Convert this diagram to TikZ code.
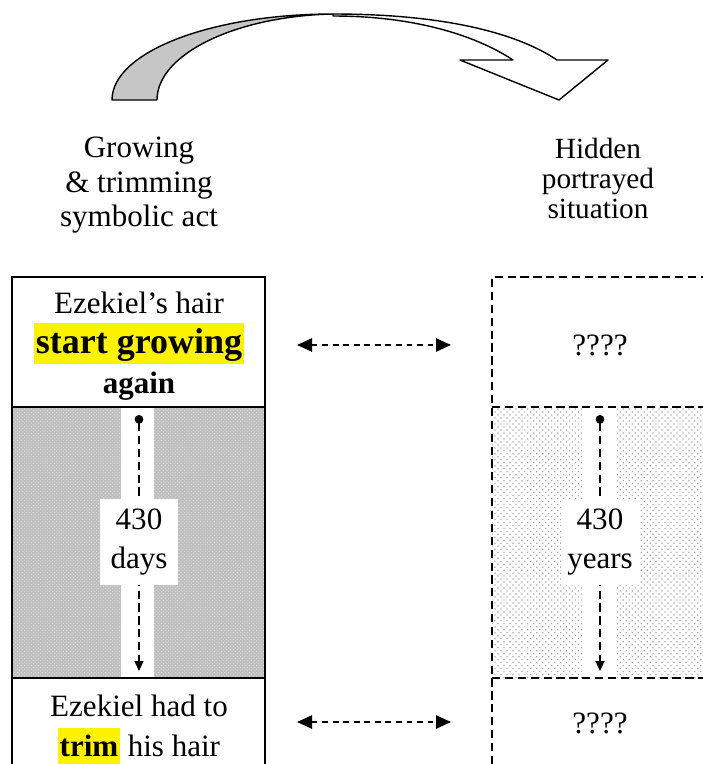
\documentclass[tikz,border=0pt]{standalone}
\usepackage{fontspec}
\setmainfont{Liberation Serif}
\usepackage{xcolor}
\usetikzlibrary{positioning, arrows.meta, patterns, patterns.meta}

\begin{document}
\begin{tikzpicture}[x=0.3mm, y=-0.3mm,
    txt/.style={anchor=base, inner sep=0pt, font=\fontsize{26.5}{32}\selectfont},
    boldtxt/.style={txt, font=\bfseries\fontsize{26.5}{32}\selectfont},
    hdr/.style={anchor=base, inner sep=0pt, font=\fontsize{25}{28}\selectfont},
    numlabel/.style={fill=white, inner sep=0pt, align=center,
        minimum width=23.4mm, minimum height=25.8mm,
        font=\fontsize{26.5}{33.3}\selectfont},
    solidbox/.style={line width=1.6pt},
    dashbox/.style={line width=1.6pt, dash pattern=on 7pt off 4pt},
    link/.style={line width=1.3pt, dash pattern=on 5pt off 4pt,
        {Triangle[length=4.5mm,width=4mm]}-{Triangle[length=4.5mm,width=4mm]}},
    span/.style={line width=1.1pt, dash pattern=on 7pt off 4pt,
        {Circle[length=2.6mm]}-{Triangle[length=3mm,width=2.7mm]}},
    ribbon/.style={line width=1.2pt, line join=round}
  ]
  \useasboundingbox (0,0) rectangle (703,764);

  % curved arrow on top
  \filldraw[ribbon, fill=gray!45]
    (112,100) .. controls (112,52) and (211,14) .. (333,14)
    .. controls (236,16) and (157,54) .. (157,100) -- cycle;
  \filldraw[ribbon, fill=white]
    (333,14) .. controls (450,14) and (520,35) .. (557,60)
    -- (608,60) -- (559,100) -- (460,60) -- (513,60)
    .. controls (480,38) and (420,16) .. (333,16) -- cycle;

  % column headings
  \node[txt] (act_1) at (139,157) {Growing};
  \node[txt] (act_2) at (139,192) {\& trimming};
  \node[txt] (act_3) at (139,226) {symbolic act};
  \node[hdr] (hid_1) at (598,158) {Hidden};
  \node[hdr] (hid_2) at (598,188) {portrayed};
  \node[hdr] (hid_3) at (598,218) {situation};

  % shaded middle parts
  \fill[gray!50] (12,407) rectangle (265,678);
  \fill[pattern=crosshatch dots, pattern color=white!75!gray] (12,407) rectangle (265,678);
  \fill[pattern={Dots[distance=3.6pt, radius=0.75pt, angle=45]}, pattern color=gray!70]
    (492,407) rectangle (703,678);
  \fill[white] (121,407) rectangle (154,678);
  \fill[white] (583,407) rectangle (617,678);

  % left column (symbolic act)
  \draw[solidbox] (12,764) |- (265,277) -- (265,764);
  \draw[solidbox] (12,407) -- (265,407);
  \draw[solidbox] (12,678) -- (265,678);

  % right column (hidden situation)
  \draw[dashbox] (492,764) |- (703,277);
  \draw[dashbox] (492,407) -- (703,407);
  \draw[dashbox] (492,678) -- (703,678);

  % box texts
  \node[txt] (hair_1) at (139,313) {Ezekiel’s hair};
  \node[txt, font=\bfseries\fontsize{30.7}{36}\selectfont, fill=yellow,
        text height=26pt, text depth=9pt, inner xsep=2pt] (hair_2) at (139,353) {start growing};
  \node[boldtxt] (hair_3) at (139,393) {again};
  \node[txt] (q_top) at (600,355) {????};

  \node[txt] (trim_1) at (139,716) {Ezekiel had to};
  \node[txt] (trim_2) at (139,756)
    {{\setlength\fboxsep{1.5pt}\colorbox{yellow}{\strut\bfseries trim}} his hair};
  \node[txt] (q_bot) at (600,733) {????};

  % correspondences
  \coordinate (lnk_1a) at (297,345);
  \coordinate (lnk_1b) at (451,345);
  \coordinate (lnk_2a) at (297,722);
  \coordinate (lnk_2b) at (451,722);
  \draw[link] (lnk_1a) -- (lnk_1b);
  \draw[link] (lnk_2a) -- (lnk_2b);

  % time spans
  \coordinate (days_s) at (139,415);
  \coordinate (days_e) at (139,671);
  \coordinate (years_s) at (600,415);
  \coordinate (years_e) at (600,671);
  \draw[span] (days_s) -- (days_e);
  \draw[span] (years_s) -- (years_e);
  \node[numlabel] (days) at (139,542) {430\\days};
  \node[numlabel] (years) at (600,542) {430\\years};
\end{tikzpicture}
\end{document}
